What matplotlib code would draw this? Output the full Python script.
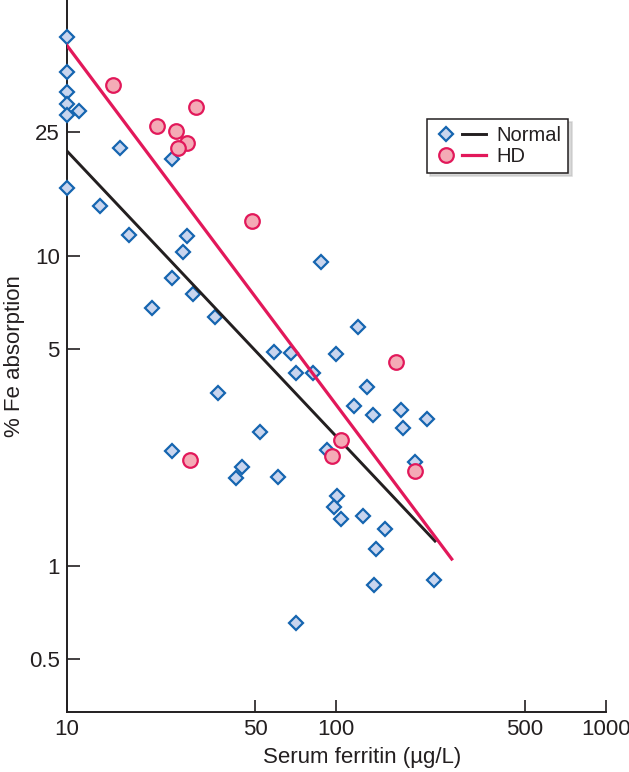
import matplotlib
matplotlib.use("Agg")
import matplotlib.pyplot as plt
from matplotlib.lines import Line2D
from matplotlib.legend_handler import HandlerTuple

plt.rcParams['font.family'] = ['Liberation Sans', 'DejaVu Sans']

# Normal subjects: serum ferritin (ug/L) and % Fe absorption
normal_ferritin = [10, 10, 10, 10, 11.1, 10, 15.8, 24.6, 10, 13.3, 17.0, 28.0,
                   27.0, 24.6, 29.4, 20.7, 35.5, 87.8, 120.4, 58.8, 68.0, 99.8,
                   70.9, 82.0, 36.4, 130.1, 116.4, 136.9, 174.0, 217.3, 177.0,
                   52.2, 24.6, 92.5, 44.7, 42.5, 60.8, 196.1, 100.7, 98.1, 104.2,
                   125.8, 151.7, 140.5, 230.7, 138.1, 70.9]
normal_absorption = [50.8, 39.1, 33.7, 30.9, 29.3, 28.4, 22.3, 20.5, 16.5, 14.5,
                     11.7, 11.6, 10.3, 8.48, 7.52, 6.78, 6.34, 9.54, 5.89, 4.89,
                     4.85, 4.82, 4.18, 4.18, 3.61, 3.77, 3.27, 3.06, 3.18, 2.97,
                     2.78, 2.70, 2.34, 2.36, 2.08, 1.92, 1.93, 2.16, 1.68, 1.54,
                     1.41, 1.45, 1.31, 1.13, 0.899, 0.866, 0.653]

# HD patients
hd_ferritin = [14.85, 30.2, 21.6, 25.4, 28.0, 25.9, 48.7, 28.7, 166.7, 104.2, 96.5, 196.1]
hd_absorption = [35.5, 30.2, 26.2, 25.3, 23.1, 22.3, 12.9, 2.19, 4.54, 2.54, 2.26, 2.02]

# regression lines (end points)
normal_fit_x = [10, 232.6]
normal_fit_y = [21.8, 1.20]
hd_fit_x = [10, 268.3]
hd_fit_y = [47.8, 1.05]

xticks = [10, 50, 100, 500, 1000]
yticks = [0.5, 1, 5, 10, 25]

blue_edge = '#1565b0'
blue_face = '#c9d5ee'
red_edge = '#e2185a'
red_face = '#f4abb6'
dark = '#231f20'

fig = plt.figure(figsize=(6.29, 7.72), dpi=100)
ax = fig.add_axes([0.106, 0.0777, 0.857, 0.9223])

ax.plot(normal_ferritin, normal_absorption, linestyle='none', marker='D',
        markersize=7.2, markerfacecolor=blue_face, markeredgecolor=blue_edge,
        markeredgewidth=1.6, clip_on=False, zorder=3)
ax.plot(normal_fit_x, normal_fit_y, color=dark, linewidth=2.1, zorder=4)
ax.plot(hd_fit_x, hd_fit_y, color=red_edge, linewidth=2.3, zorder=4)
ax.plot(hd_ferritin, hd_absorption, linestyle='none', marker='o',
        markersize=10.5, markerfacecolor=red_face, markeredgecolor=red_edge,
        markeredgewidth=1.6, clip_on=False, zorder=5)

ax.set_xscale('log')
ax.set_yscale('log')
ax.set_xlim(10, 1000)
ax.set_ylim(0.337, 66.8)
ax.set_xticks(xticks)
ax.set_xticklabels([str(t) for t in xticks])
ax.set_yticks(yticks)
ax.set_yticklabels(['0.5', '1', '5', '10', '25'])
ax.minorticks_off()

for s in ['top', 'right']:
    ax.spines[s].set_visible(False)
for s in ['left', 'bottom']:
    ax.spines[s].set_linewidth(1.4)
    ax.spines[s].set_color(dark)

ax.tick_params(direction='in', length=9, width=1.2, color=dark,
               labelsize=16, labelcolor=dark, pad=5)

ax.set_xlabel('Serum ferritin (\u00b5g/L)', fontsize=16, color=dark,
              labelpad=5, x=0.549)
ax.set_ylabel('% Fe absorption', fontsize=16, color=dark, labelpad=3)

h_normal = (Line2D([], [], linestyle='none', marker='D', markersize=7.2,
                   markerfacecolor=blue_face, markeredgecolor=blue_edge,
                   markeredgewidth=1.6),
            Line2D([], [], color=dark, linewidth=2.1))
h_hd = (Line2D([], [], linestyle='none', marker='o', markersize=10.5,
               markerfacecolor=red_face, markeredgecolor=red_edge,
               markeredgewidth=1.6),
        Line2D([], [], color=red_edge, linewidth=2.3))

leg = ax.legend([h_normal, h_hd], ['Normal', 'HD'],
                handler_map={tuple: HandlerTuple(ndivide=None, pad=0.2)},
                loc='upper left', bbox_to_anchor=(0.668, 0.833),
                borderaxespad=0, fontsize=14.5, handlelength=2.6,
                handletextpad=0.5, labelspacing=0.1, borderpad=0.35,
                fancybox=False, edgecolor=dark, framealpha=1,
                shadow={'color': '0.75', 'alpha': 0.6, 'ox': 2.5, 'oy': -2.5})
leg.get_frame().set_linewidth(1.1)
for t in leg.get_texts():
    t.set_color(dark)

fig.savefig('out.png', dpi=100)
